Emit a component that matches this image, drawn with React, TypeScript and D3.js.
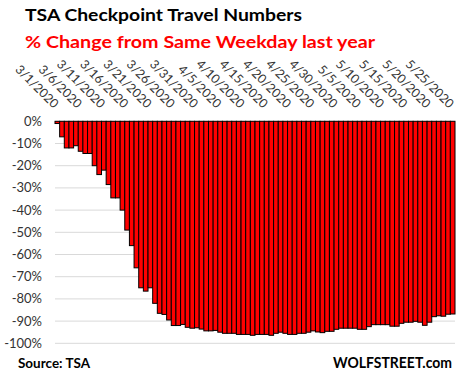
import React from "react";
import * as d3 from "d3";

const W = 461;
const H = 378;

// daily % change vs same weekday last year, 3/1/2020 .. 5/25/2020
const pctChange: number[] = [
  -1, -7, -12, -12, -11, -13.5, -14.5, -14.5, -20, -24,
  -22, -28.5, -34.5, -34.5, -40, -49, -56, -66, -75, -76.5,
  -75, -82, -86.5, -87, -89.5, -92, -92, -91.5, -92.8, -93.2,
  -93, -93.6, -94.4, -94.4, -94.2, -95, -95.5, -95.5, -95.5, -96,
  -96, -96, -96.4, -96, -96, -96, -96.4, -95.5, -95, -95.5,
  -96, -96, -95.5, -95.5, -95, -94.4, -94.9, -95.2, -94.6, -94.6,
  -93.7, -93.2, -93.2, -93.2, -93.2, -93.7, -93.7, -92.5, -91.6, -91.6,
  -91.6, -91.6, -92.3, -92.3, -91, -90.5, -90.5, -90.1, -90.5, -91.9,
  -90.5, -88, -87.6, -87.8, -86.9, -86.8,
];

const startDate = new Date(2020, 2, 1);
const fmt = d3.timeFormat("%-m/%-d/%Y");
const categories: string[] = pctChange.map((_, i) => fmt(d3.timeDay.offset(startDate, i)));

const tickLabels: string[] = [
  "3/1/2020", "3/6/2020", "3/11/2020", "3/16/2020", "3/21/2020", "3/26/2020",
  "3/31/2020", "4/5/2020", "4/10/2020", "4/15/2020", "4/20/2020", "4/25/2020",
  "4/30/2020", "5/5/2020", "5/10/2020", "5/15/2020", "5/20/2020", "5/25/2020",
];

const yTicks: number[] = [0, -10, -20, -30, -40, -50, -60, -70, -80, -90, -100];

const title = "TSA Checkpoint Travel Numbers";
const subtitle = "% Change from Same Weekday last year";
const source = "Source: TSA";
const brand = "WOLFSTREET.com";

const FONT = "Lato, 'Open Sans', sans-serif";

export default function App() {
  const left = 55;
  const right = 455;
  const top = 121.3;
  const bottom = 343.3;

  const x = d3.scaleBand<string>().domain(categories).range([left, right]).padding(0);
  const y = d3.scaleLinear().domain([-100, 0]).range([bottom, top]);

  return (
    <svg
      width={W}
      height={H}
      viewBox={`0 0 ${W} ${H}`}
      style={{ position: "absolute", left: 0, top: 0, background: "#fff" }}
    >
      <rect x={0} y={0} width={W} height={H} fill="#fff" />
      <text x={25} y={21} fontFamily={FONT} fontWeight={700} fontSize={17.5} fill="#000"
        textLength={277} lengthAdjust="spacingAndGlyphs">
        {title}
      </text>
      <text x={25} y={48} fontFamily={FONT} fontWeight={700} fontSize={17.5} fill="#ff0000"
        textLength={350} lengthAdjust="spacingAndGlyphs">
        {subtitle}
      </text>

      {yTicks.map((t) => (
        <g key={t}>
          <line x1={left} x2={right} y1={y(t)} y2={y(t)} stroke="#d9d9d9" strokeWidth={1} />
          <text x={42} y={y(t)} dy="0.35em" textAnchor="end" fontFamily={FONT}
            fontSize={13} fill="#333">
            {`${t}%`}
          </text>
        </g>
      ))}

      {pctChange.map((v, i) => (
        <rect
          key={categories[i]}
          x={x(categories[i])!}
          y={y(0)}
          width={x.bandwidth()}
          height={y(v) - y(0)}
          fill="#ff0000"
          stroke="#000"
          strokeWidth={1}
        />
      ))}

      {tickLabels.map((lab) => {
        const cx = x(lab)! + x.bandwidth() / 2 - 4;
        return (
          <text key={lab} transform={`translate(${cx},109) rotate(45)`} textAnchor="end"
            fontFamily={FONT} fontSize={12.5} fill="#333">
            {lab}
          </text>
        );
      })}

      <text x={18} y={368} fontFamily={FONT} fontWeight={700} fontSize={14} fill="#000"
        textLength={72} lengthAdjust="spacingAndGlyphs">
        {source}
      </text>
      <text x={333} y={368} fontFamily={FONT} fontWeight={700} fontSize={15}
        fill="#000" textLength={119} lengthAdjust="spacingAndGlyphs">
        {brand}
      </text>
    </svg>
  );
}
